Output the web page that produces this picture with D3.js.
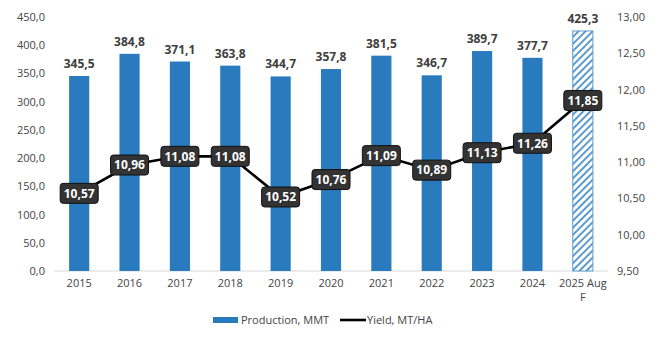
<!DOCTYPE html>
<html>
<head>
<meta charset="utf-8">
<script src="https://cdn.jsdelivr.net/npm/d3@7"></script>
<style>
  body { margin: 0; background: #fff; }
  svg text { font-family: "Open Sans", Lato, sans-serif; }
</style>
</head>
<body>
<div id="chart"></div>
<script>
// chart data
const years = ["2015", "2016", "2017", "2018", "2019", "2020", "2021", "2022", "2023", "2024", "2025 Aug F"];
const production = [345.5, 384.8, 371.1, 363.8, 344.7, 357.8, 381.5, 346.7, 389.7, 377.7, 425.3];
const yieldVals = [10.57, 10.96, 11.08, 11.08, 10.52, 10.76, 11.09, 10.89, 11.13, 11.26, 11.85];
const leftTicks = [0, 50, 100, 150, 200, 250, 300, 350, 400, 450];
const rightTicks = [9.5, 10, 10.5, 11, 11.5, 12, 12.5, 13];
const forecastYear = "2025 Aug F";

const W = 667, H = 350;
const margin = { top: 17, right: 59, bottom: 79, left: 54 };
const width = W - margin.left - margin.right;
const height = H - margin.top - margin.bottom;

const fmt = (v, d) => v.toFixed(d).replace(".", ",");

const svg = d3.select("#chart").append("svg")
    .attr("width", W).attr("height", H);

// hatch pattern for forecast bar
const defs = svg.append("defs");
const pat = defs.append("pattern")
    .attr("id", "hatch")
    .attr("patternUnits", "userSpaceOnUse")
    .attr("width", 5).attr("height", 5)
    .attr("patternTransform", "rotate(45)");
pat.append("rect").attr("width", 5).attr("height", 5).attr("fill", "#ffffff");
pat.append("rect").attr("width", 2).attr("height", 5).attr("fill", "#5b9bcf");

const g = svg.append("g").attr("transform", `translate(${margin.left},${margin.top})`);

const x = d3.scaleBand().domain(years).range([0, width]).paddingInner(0.6).paddingOuter(0.3);
const y = d3.scaleLinear().domain([0, 450]).range([height, 0]);
const y2 = d3.scaleLinear().domain([9.5, 13]).range([height, 0]);

// left axis
const yAxis = g.append("g")
    .call(d3.axisLeft(y).tickValues(leftTicks).tickSize(0).tickFormat(d => fmt(d, 1)).tickPadding(9));
yAxis.select(".domain").remove();
yAxis.selectAll("text").attr("font-size", 11).attr("fill", "#444");

// right axis
const yAxis2 = g.append("g")
    .attr("transform", `translate(${width},0)`)
    .call(d3.axisRight(y2).tickValues(rightTicks).tickSize(0).tickFormat(d => fmt(d, 2)).tickPadding(9));
yAxis2.select(".domain").remove();
yAxis2.selectAll("text").attr("font-size", 11).attr("fill", "#444");

// baseline
g.append("line")
    .attr("x1", 0).attr("x2", width)
    .attr("y1", height).attr("y2", height)
    .attr("stroke", "#d9d9d9").attr("stroke-width", 1);

// bars
g.selectAll("rect.bar")
    .data(years)
    .join("rect")
    .attr("class", "bar")
    .attr("x", d => x(d))
    .attr("width", x.bandwidth())
    .attr("y", (d, i) => y(production[i]))
    .attr("height", (d, i) => height - y(production[i]))
    .attr("fill", d => d === forecastYear ? "url(#hatch)" : "#2a7bbd")
    .attr("stroke", d => d === forecastYear ? "#5b9bcf" : "none")
    .attr("stroke-width", 1);

// bar value labels
g.selectAll("text.bval")
    .data(years)
    .join("text")
    .attr("class", "bval")
    .attr("x", d => x(d) + x.bandwidth() / 2)
    .attr("y", (d, i) => y(production[i]) - 8)
    .attr("text-anchor", "middle")
    .attr("font-size", 12)
    .attr("font-weight", 700)
    .attr("fill", "#404040")
    .text((d, i) => fmt(production[i], 1));

// x axis labels
const xl = g.selectAll("text.xl")
    .data(years)
    .join("text")
    .attr("class", "xl")
    .attr("x", d => x(d) + x.bandwidth() / 2)
    .attr("y", height + 16)
    .attr("text-anchor", "middle")
    .attr("font-size", 11)
    .attr("fill", "#444");
xl.each(function (d) {
    const parts = d === forecastYear ? ["2025 Aug", "F"] : [d];
    const t = d3.select(this);
    parts.forEach((p, k) => {
        t.append("tspan")
            .attr("x", x(d) + x.bandwidth() / 2)
            .attr("dy", k === 0 ? 0 : 14)
            .text(p);
    });
});

// yield line
const line = d3.line()
    .x((d, i) => x(years[i]) + x.bandwidth() / 2)
    .y(d => y2(d));
g.append("path")
    .datum(yieldVals)
    .attr("fill", "none")
    .attr("stroke", "#000")
    .attr("stroke-width", 2.6)
    .attr("d", line);

// yield labels
const lab = g.selectAll("g.ylab")
    .data(yieldVals)
    .join("g")
    .attr("class", "ylab")
    .attr("transform", (d, i) => `translate(${x(years[i]) + x.bandwidth() / 2},${y2(d)})`);
lab.append("rect")
    .attr("x", -19).attr("y", -10)
    .attr("width", 38).attr("height", 20)
    .attr("rx", 3)
    .attr("fill", "#333333")
    .attr("stroke", "#111")
    .attr("stroke-width", 1);
lab.append("text")
    .attr("text-anchor", "middle")
    .attr("dy", "0.36em")
    .attr("font-size", 12)
    .attr("font-weight", 700)
    .attr("fill", "#fff")
    .text(d => fmt(d, 2));

// legend
const leg = svg.append("g").attr("transform", "translate(213,320)");
leg.append("rect").attr("x", 0).attr("y", -3).attr("width", 25).attr("height", 6).attr("fill", "#2a7bbd");
leg.append("text").attr("x", 28).attr("y", 0).attr("dy", "0.35em")
    .attr("font-size", 11).attr("fill", "#444").text("Production, MMT");
leg.append("line").attr("x1", 127).attr("x2", 153).attr("y1", 0).attr("y2", 0)
    .attr("stroke", "#000").attr("stroke-width", 2.6);
leg.append("text").attr("x", 154).attr("y", 0).attr("dy", "0.35em")
    .attr("font-size", 11).attr("fill", "#444").text("Yield, MT/HA");
</script>
</body>
</html>
